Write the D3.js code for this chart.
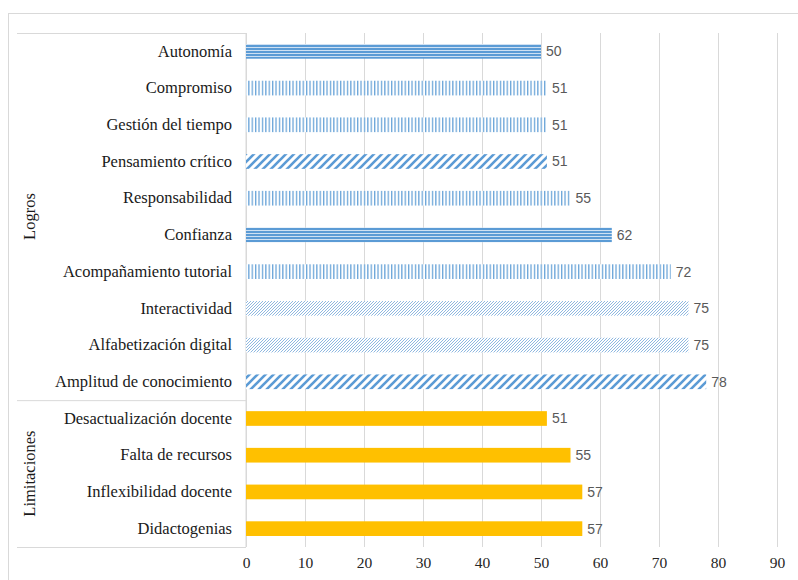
<!DOCTYPE html>
<html>
<head>
<meta charset="utf-8">
<script src="https://cdn.jsdelivr.net/npm/d3@7"></script>
<style>
  body { margin: 0; background: #fff; }
  svg { display: block; }
  .serif { font-family: "Liberation Serif", "Times New Roman", "DejaVu Serif", serif; }
  .sans { font-family: "Liberation Sans", Arial, sans-serif; }
</style>
</head>
<body>
<svg id="chart" width="798" height="580"></svg>
<script>
// ---- data ----
const categories = [
  "Autonomía", "Compromiso", "Gestión del tiempo", "Pensamiento crítico",
  "Responsabilidad", "Confianza", "Acompañamiento tutorial", "Interactividad",
  "Alfabetización digital", "Amplitud de conocimiento",
  "Desactualización docente", "Falta de recursos ", "Inflexibilidad docente", "Didactogenias"
];
const values = [50, 51, 51, 51, 55, 62, 72, 75, 75, 78, 51, 55, 57, 57];
const groupNames = ["Logros", "Limitaciones"];
const groupOf = ["Logros","Logros","Logros","Logros","Logros","Logros","Logros","Logros","Logros","Logros",
                 "Limitaciones","Limitaciones","Limitaciones","Limitaciones"];
const xTicks = [0, 10, 20, 30, 40, 50, 60, 70, 80, 90];

// ---- fill style per category (styling, kept apart from data) ----
const fillKind = ["hlines","vlines","vlines","wdiag","vlines","hlines","vlines","ndiag","ndiag","wdiag",
                  "solid","solid","solid","solid"];

const svg = d3.select("#chart");
const blue = "#5b9bd5", orange = "#ffc000";

// patterns
const defs = svg.append("defs");
const ph = defs.append("pattern").attr("id","hlines").attr("patternUnits","userSpaceOnUse")
  .attr("width",6).attr("height",3);
ph.append("rect").attr("width",6).attr("height",3).attr("fill","#cfe1f3");
ph.append("rect").attr("width",6).attr("height",2).attr("fill",blue);

const pv = defs.append("pattern").attr("id","vlines").attr("patternUnits","userSpaceOnUse")
  .attr("width",3.4).attr("height",6);
pv.append("rect").attr("width",3.4).attr("height",6).attr("fill","#fff");
pv.append("rect").attr("width",1.3).attr("height",6).attr("fill",blue).attr("opacity",0.9);

const pw = defs.append("pattern").attr("id","wdiag").attr("patternUnits","userSpaceOnUse")
  .attr("width",8).attr("height",8);
pw.append("rect").attr("width",8).attr("height",8).attr("fill","#fff");
pw.append("path").attr("d","M-2,10 L10,-2 M-2,2 L2,-2 M6,10 L10,6")
  .attr("stroke",blue).attr("stroke-width",2.6);

const pn = defs.append("pattern").attr("id","ndiag").attr("patternUnits","userSpaceOnUse")
  .attr("width",3).attr("height",3);
pn.append("rect").attr("width",3).attr("height",3).attr("fill","#fff");
pn.append("path").attr("d","M-1,4 L4,-1 M-1,1 L1,-1 M2,4 L4,2")
  .attr("stroke","#8fb8e0").attr("stroke-width",1);

// outer border
svg.append("rect").attr("x",8.5).attr("y",13.5).attr("width",800).attr("height",600)
  .attr("fill","#fff").attr("stroke","#d9d9d9");

const pLeft = 246, pRight = 777, pTop = 33, pBottom = 547;
const x = d3.scaleLinear().domain([0, 90]).range([pLeft, pRight]);
const y = d3.scaleBand().domain(categories).range([pTop, pBottom]).paddingInner(0.6).paddingOuter(0.3);

// gridlines
const grid = svg.append("g").attr("transform",`translate(0,${pTop})`)
  .call(d3.axisBottom(x).tickValues(xTicks).tickSize(pBottom - pTop).tickFormat(""));
grid.select(".domain").remove();
grid.selectAll("line").attr("stroke","#d9d9d9");

// x tick labels
const xa = svg.append("g").attr("transform",`translate(0,${pBottom})`)
  .call(d3.axisBottom(x).tickValues(xTicks).tickSize(0).tickPadding(10));
xa.attr("font-family", null).attr("font-size", null);
xa.select(".domain").remove();
xa.selectAll("text").attr("class","serif").style("font-size","15.5px").attr("fill","#262626");

// category-axis frame lines
const frameX0 = 17;
const step = (pBottom - pTop) / categories.length;
const sepY = pTop + step * 10;
[pTop, sepY, pBottom].forEach(v => {
  svg.append("line").attr("x1",frameX0).attr("x2",pLeft).attr("y1",v+0.5).attr("y2",v+0.5)
    .attr("stroke","#d9d9d9");
});
svg.append("line").attr("x1",pLeft).attr("x2",pLeft).attr("y1",pTop).attr("y2",pBottom).attr("stroke","#d9d9d9");

// category labels
const ya = svg.append("g").attr("transform",`translate(${pLeft},0)`)
  .call(d3.axisLeft(y).tickSize(0).tickPadding(14));
ya.attr("font-family", null).attr("font-size", null);
ya.select(".domain").remove();
ya.selectAll("text").attr("class","serif").style("font-size","16.5px").attr("fill","#1a1a1a");

// group labels
groupNames.forEach(g => {
  const idx = categories.map((c,i) => i).filter(i => groupOf[i] === g);
  const y0 = pTop + step * d3.min(idx), y1 = pTop + step * (d3.max(idx) + 1);
  const cy = (y0 + y1) / 2;
  svg.append("text").attr("transform",`translate(35,${cy}) rotate(-90)`)
    .attr("text-anchor","middle").attr("class","serif")
    .style("font-size","16.5px").attr("fill","#1a1a1a").text(g);
});

// bars
svg.append("g").selectAll("rect").data(categories).join("rect")
  .attr("x", x(0))
  .attr("y", d => y(d))
  .attr("width", (d,i) => x(values[i]) - x(0))
  .attr("height", y.bandwidth())
  .attr("fill", (d,i) => fillKind[i] === "solid" ? orange : `url(#${fillKind[i]})`);

// value labels
svg.append("g").selectAll("text").data(categories).join("text")
  .attr("x", (d,i) => x(values[i]) + 5)
  .attr("y", d => y(d) + y.bandwidth()/2)
  .attr("dy","0.35em").attr("class","sans")
  .style("font-size","14px").attr("fill","#595959")
  .text((d,i) => values[i]);
</script>
</body>
</html>
